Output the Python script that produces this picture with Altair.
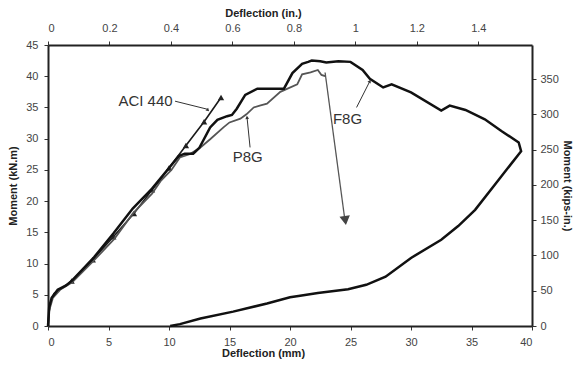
import altair as alt
import pandas as pd

# ---------------- data ----------------
f8g_x = [0, 0.1, 0.3, 0.8, 1.5, 2.0, 3.8, 5.4, 7.0, 8.6, 10.0, 10.8, 11.3, 12.0, 12.5, 13.4, 14.0, 14.8,
         15.2, 15.6, 16.3, 17.3, 19.5, 20.2, 21.0, 21.5, 21.8, 22.5, 23.0, 24.0, 25.0, 26.0, 26.6, 27.7,
         28.4, 30.0, 32.5, 33.2, 34.5, 36.1, 37.5, 38.9, 39.1,
         37.2, 35.3, 33.9, 32.5, 30.0, 27.9, 26.3, 24.8, 22.3, 20.7, 20.0, 18.1, 15.3, 12.6, 10.9, 10.1]
f8g_y = [0, 3.0, 4.5, 5.8, 6.5, 7.3, 11.0, 14.8, 18.8, 22.0, 25.3, 27.2, 27.6, 27.6, 28.5, 31.8, 33.0, 33.6,
         33.8, 34.8, 37.0, 38.0, 38.0, 40.5, 42.0, 42.3, 42.5, 42.4, 42.2, 42.4, 42.3, 41.0, 39.6, 38.2,
         38.7, 37.4, 34.5, 35.3, 34.6, 33.1, 31.2, 29.4, 28.0,
         23.3, 18.6, 16.0, 13.8, 10.9, 7.9, 6.6, 5.9, 5.3, 4.8, 4.6, 3.6, 2.3, 1.2, 0.3, 0]

p8g_x = [0, 0.1, 0.4, 1.0, 2.0, 3.8, 5.5, 7.0, 8.6, 9.3, 10.2, 10.9, 11.7, 12.6, 13.4, 14.5, 15.0, 15.9,
         16.4, 17.0, 17.5, 18.1, 19.2, 20.6, 21.0, 21.7, 22.3, 22.6, 22.9]
p8g_y = [0, 2.5, 4.5, 5.8, 7.0, 10.5, 14.0, 18.0, 21.2, 23.2, 25.0, 27.0, 27.5, 28.6, 29.9, 31.8, 32.6, 33.2,
         33.9, 35.0, 35.3, 35.6, 37.5, 38.7, 40.3, 40.6, 41.0, 40.2, 40.0]

aci_x = [0, 0.15, 0.5, 1.95, 3.7, 5.4, 7.1, 8.6, 10.0, 11.4, 12.9, 14.3]
aci_y = [0, 3.5, 5.2, 7.2, 10.6, 14.3, 18.0, 21.8, 25.3, 28.9, 32.7, 36.6]
aci_marker_x = [1.95, 3.7, 5.4, 7.1, 8.6, 10.0, 11.4, 12.9, 14.3]
aci_marker_y = [7.2, 10.6, 14.3, 18.0, 21.8, 25.3, 28.9, 32.7, 36.6]

x_ticks_mm = [0, 5, 10, 15, 20, 25, 30, 35, 40]
y_ticks_kn = [0, 5, 10, 15, 20, 25, 30, 35, 40, 45]
x_ticks_in = [0, 0.2, 0.4, 0.6, 0.8, 1.0, 1.2, 1.4]
y_ticks_kip = [0, 50, 100, 150, 200, 250, 300, 350]

labels = ["ACI 440", "P8G", "F8G"]
label_x = [10.3, 16.5, 24.75]
label_y = [36.0, 27.0, 33.1]
label_align = ["right", "center", "center"]

lead_x = [10.5, 16.7, 25.5]
lead_y = [36.0, 28.6, 35.0]
lead_x2 = [13.2, 16.45, 26.6]
lead_y2 = [34.7, 33.4, 39.2]
lead_angle = [13.6, 354, 27]

arrow_x, arrow_y, arrow_x2, arrow_y2 = [22.9], [40.6], [24.5], [17.5]
arrowhead_x, arrowhead_y = [24.57], [16.9]

MM_PER_IN = 25.4
KIPIN_PER_KNM = 8.8507

# ---------------- frames ----------------
def series(name, xs, ys):
    return pd.DataFrame({"s": name, "x": xs, "y": ys, "o": list(range(len(xs)))})

f8g = series("F8G", f8g_x, f8g_y)
p8g = series("P8G", p8g_x, p8g_y)
aci = series("ACI", aci_x, aci_y)
aci_m = pd.DataFrame({"x": aci_marker_x, "y": aci_marker_y})
lab = pd.DataFrame({"t": labels, "x": label_x, "y": label_y, "a": label_align})
lead = pd.DataFrame({"x": lead_x, "y": lead_y, "x2": lead_x2, "y2": lead_y2, "ang": lead_angle})
arr = pd.DataFrame({"x": arrow_x, "y": arrow_y, "x2": arrow_x2, "y2": arrow_y2})
arrh = pd.DataFrame({"x": arrowhead_x, "y": arrowhead_y})

FONT = "Liberation Sans"
xs = alt.Scale(domain=[0, 40], nice=False, zero=False)
ys = alt.Scale(domain=[0, 45], nice=False, zero=False)

x_axis = alt.Axis(values=x_ticks_mm, title="Deflection (mm)", orient="bottom", grid=False,
                  titleX=215, titlePadding=0, labelPadding=6)
y_axis = alt.Axis(values=y_ticks_kn, title="Moment (kN.m)", orient="left", grid=False,
                  titlePadding=7, labelPadding=6)

X = alt.X("x:Q", scale=xs, axis=x_axis)
Y = alt.Y("y:Q", scale=ys, axis=y_axis)

aci_line = alt.Chart(aci).mark_line(color="#1a1a1a", strokeWidth=1.6).encode(X, Y, order="o:Q")
aci_pts = alt.Chart(aci_m).mark_point(shape="triangle-up", filled=True, color="#222", size=40, opacity=1).encode(X, Y)
p8g_line = alt.Chart(p8g).mark_line(color="#555555", strokeWidth=1.8).encode(X, Y, order="o:Q")
f8g_line = alt.Chart(f8g).mark_line(color="#111111", strokeWidth=2.5).encode(X, Y, order="o:Q")

lead_rule = alt.Chart(lead).mark_rule(color="#333", strokeWidth=1).encode(X, Y, x2="x2:Q", y2="y2:Q")
lead_head = alt.Chart(lead).mark_point(shape="triangle-up", filled=True, color="#333", size=14, opacity=1).encode(
    x=alt.X("x2:Q", scale=xs, axis=x_axis), y=alt.Y("y2:Q", scale=ys, axis=y_axis),
    angle=alt.Angle("ang:Q", scale=None))
arrow_rule = alt.Chart(arr).mark_rule(color="#555", strokeWidth=1.3).encode(X, Y, x2="x2:Q", y2="y2:Q")
arrow_head = alt.Chart(arrh).mark_point(shape="triangle-down", filled=True, color="#444", size=110,
                                        opacity=1, angle=352).encode(X, Y)

txt_r = alt.Chart(lab[lab.a == "right"]).mark_text(font=FONT, fontSize=15, color="#333", baseline="middle",
                                                   align="right").encode(X, Y, text="t:N")
txt_c = alt.Chart(lab[lab.a == "center"]).mark_text(font=FONT, fontSize=15, color="#333", baseline="middle",
                                                    align="center").encode(X, Y, text="t:N")

main = alt.layer(aci_line, aci_pts, p8g_line, arrow_rule, arrow_head, f8g_line, lead_rule, lead_head, txt_r, txt_c)

# secondary axes (inches on top, kip-in on right)
sec = pd.DataFrame({"xi": [0, 40 / MM_PER_IN], "yk": [0, 45 * KIPIN_PER_KNM]})
top_right = alt.Chart(sec).mark_point(opacity=0).encode(
    x=alt.X("xi:Q", scale=alt.Scale(domain=[0, 40 / MM_PER_IN], nice=False, zero=False),
            axis=alt.Axis(values=x_ticks_in, orient="top", title="Deflection (in.)", grid=False,
                          format="~g", titleX=215, titlePadding=4, labelPadding=8)),
    y=alt.Y("yk:Q", scale=alt.Scale(domain=[0, 45 * KIPIN_PER_KNM], nice=False, zero=False),
            axis=alt.Axis(values=y_ticks_kip, orient="right", title="Moment (kips-in.)", grid=False,
                          titlePadding=3, labelPadding=4)),
)

chart = alt.layer(main, top_right).resolve_scale(x="independent", y="independent").properties(
    width=484, height=281,
    autosize=alt.AutoSizeParams(type="none"),
    padding={"left": 48, "top": 45, "right": 43, "bottom": 40},
    background="white",
).configure_view(stroke=None).configure_axis(
    labelFont=FONT, labelFontSize=11, labelColor="#444", titleFont=FONT, titleFontSize=11,
    titleColor="#222", titleFontWeight="bold", domainColor="#222", domainWidth=2,
    tickColor="#333", tickSize=4, tickWidth=1,
)

chart.save("out.html", embed_options={"renderer": "svg", "actions": False})
